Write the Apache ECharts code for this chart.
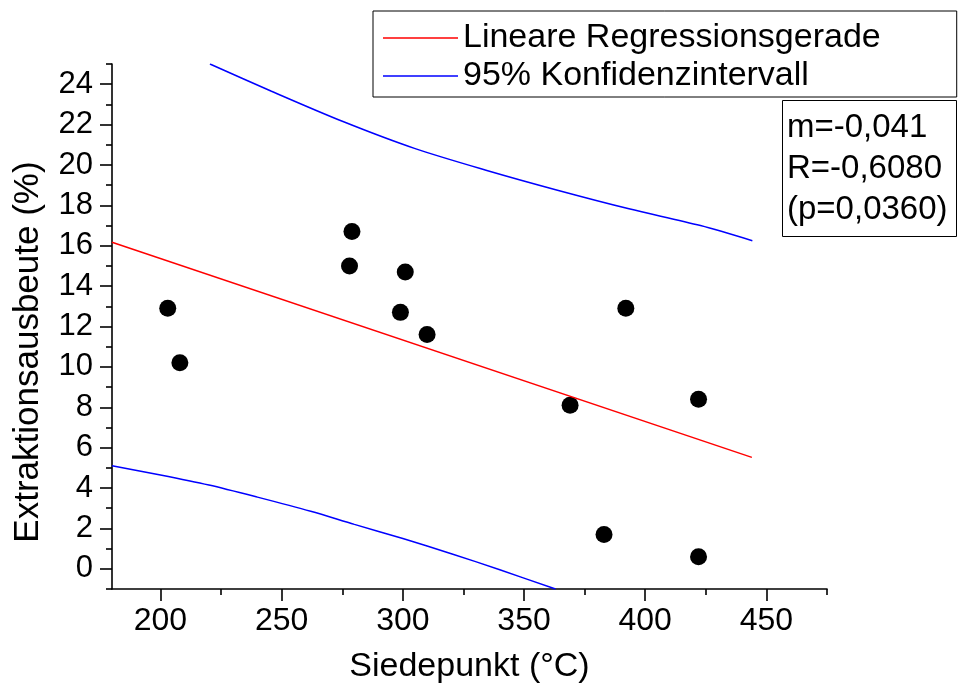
<!DOCTYPE html>
<html>
<head>
<meta charset="utf-8">
<script src="https://cdn.jsdelivr.net/npm/echarts@6/dist/echarts.min.js"></script>
<style>
html,body{margin:0;padding:0;background:#fff;}
#c{width:959px;height:695px;}
</style>
</head>
<body>
<div id="c"></div>
<script>
// Data
var pointsX = [203, 208, 279, 278, 301, 299, 310, 369, 392, 383, 422, 422];
var pointsY = [12.9, 10.2, 16.7, 15.0, 14.7, 12.7, 11.6, 8.1, 12.9, 1.7, 8.4, 0.6];
var regX = [180, 444];
var regY = [16.17, 5.52];
var upperX = [220.4, 245.8, 275.3, 304.8, 334.3, 363.8, 393.3, 422.8, 444.2];
var upperY = [25.0, 23.65, 22.15, 20.82, 19.74, 18.75, 17.83, 17.0, 16.25];
var lowerX = [180, 200, 220, 240, 262, 280, 300, 320, 340, 363];
var lowerY = [5.1, 4.65, 4.15, 3.55, 2.85, 2.2, 1.5, 0.75, -0.05, -1.0];
var xMajor = [200, 250, 300, 350, 400, 450];
var xMinor = [225, 275, 325, 375, 425, 475];
var yMajor = [0, 2, 4, 6, 8, 10, 12, 14, 16, 18, 20, 22, 24];
var yMinor = [-1, 1, 3, 5, 7, 9, 11, 13, 15, 17, 19, 21, 23, 25];
var legendNames = ['Lineare Regressionsgerade', '95% Konfidenzintervall'];
var statsText = ['m=-0,041', 'R=-0,6080', '(p=0,0360)'];
var xTitle = 'Siedepunkt (°C)';
var yTitle = 'Extraktionsausbeute (%)';

function zip(a, b) { return a.map(function (v, i) { return [v, b[i]]; }); }

var FONT = '"Liberation Sans", Arial, sans-serif';
var chart = echarts.init(document.getElementById('c'));
var axisLine = { show: true, onZero: false, lineStyle: { color: '#000', width: 1.6 } };

chart.setOption({
  animation: false,
  backgroundColor: '#fff',
  textStyle: { fontFamily: FONT },
  grid: { left: 112, right: 132, top: 64, bottom: 106 },
  title: {
    text: statsText.join('\n'),
    left: 782, top: 100,
    padding: [7, 9, 7, 5],
    borderColor: '#000', borderWidth: 1,
    textStyle: { fontFamily: FONT, fontSize: 33, fontWeight: 'normal', color: '#000', lineHeight: 41 }
  },
  graphic: [{
    type: 'text',
    x: 28, y: 352,
    rotation: Math.PI / 2,
    style: {
      text: yTitle, fontFamily: FONT, fontSize: 35, fill: '#000',
      textAlign: 'center', textVerticalAlign: 'middle'
    }
  }],
  legend: {
    orient: 'vertical',
    left: 373, top: 11,
    padding: [10, 76, 4, 10],
    itemGap: 4,
    itemWidth: 75, itemHeight: 1.5,
    borderColor: '#000', borderWidth: 1,
    textStyle: { fontFamily: FONT, fontSize: 34, color: '#000' },
    data: [
      { name: legendNames[0], icon: 'rect' },
      { name: legendNames[1], icon: 'rect' }
    ]
  },
  xAxis: [
    {
      type: 'value', min: 180, max: 475, position: 'bottom',
      axisLine: axisLine,
      splitLine: { show: false },
      axisTick: { show: true, length: 12, customValues: xMajor, lineStyle: { color: '#000', width: 1.6 } },
      axisLabel: { customValues: xMajor, fontSize: 32, color: '#000', margin: 16, fontFamily: FONT },
      name: xTitle, nameLocation: 'middle', nameGap: 61,
      nameTextStyle: { fontSize: 34, color: '#000', fontFamily: FONT }
    },
    {
      type: 'value', min: 180, max: 475, position: 'bottom', gridIndex: 0,
      axisLine: { show: false, onZero: false },
      splitLine: { show: false },
      axisTick: { show: true, length: 6, customValues: xMinor, lineStyle: { color: '#000', width: 1.6 } },
      axisLabel: { show: false }
    }
  ],
  yAxis: [
    {
      type: 'value', min: -1, max: 25, position: 'left',
      axisLine: axisLine,
      splitLine: { show: false },
      axisTick: { show: true, length: 12, customValues: yMajor, lineStyle: { color: '#000', width: 1.6 } },
      axisLabel: { customValues: yMajor, fontSize: 31, color: '#000', margin: 19, fontFamily: FONT }
    },
    {
      type: 'value', min: -1, max: 25, position: 'left', gridIndex: 0,
      axisLine: { show: false, onZero: false },
      splitLine: { show: false },
      axisTick: { show: true, length: 6, customValues: yMinor, lineStyle: { color: '#000', width: 1.6 } },
      axisLabel: { show: false }
    }
  ],
  series: [
    {
      name: legendNames[0], type: 'line', data: zip(regX, regY),
      symbol: 'none', lineStyle: { color: '#ff0000', width: 1.5 }, itemStyle: { color: '#ff0000' }
    },
    {
      name: legendNames[1], type: 'line', data: zip(upperX, upperY), smooth: 0.3,
      symbol: 'none', lineStyle: { color: '#0000ff', width: 1.5 }, itemStyle: { color: '#0000ff' }
    },
    {
      name: legendNames[1], type: 'line', data: zip(lowerX, lowerY), smooth: 0.3,
      symbol: 'none', lineStyle: { color: '#0000ff', width: 1.5 }, itemStyle: { color: '#0000ff' }
    },
    {
      name: 'Daten', type: 'scatter', data: zip(pointsX, pointsY),
      symbol: 'circle', symbolSize: 17, itemStyle: { color: '#000', opacity: 1 }
    }
  ]
});
</script>
</body>
</html>
